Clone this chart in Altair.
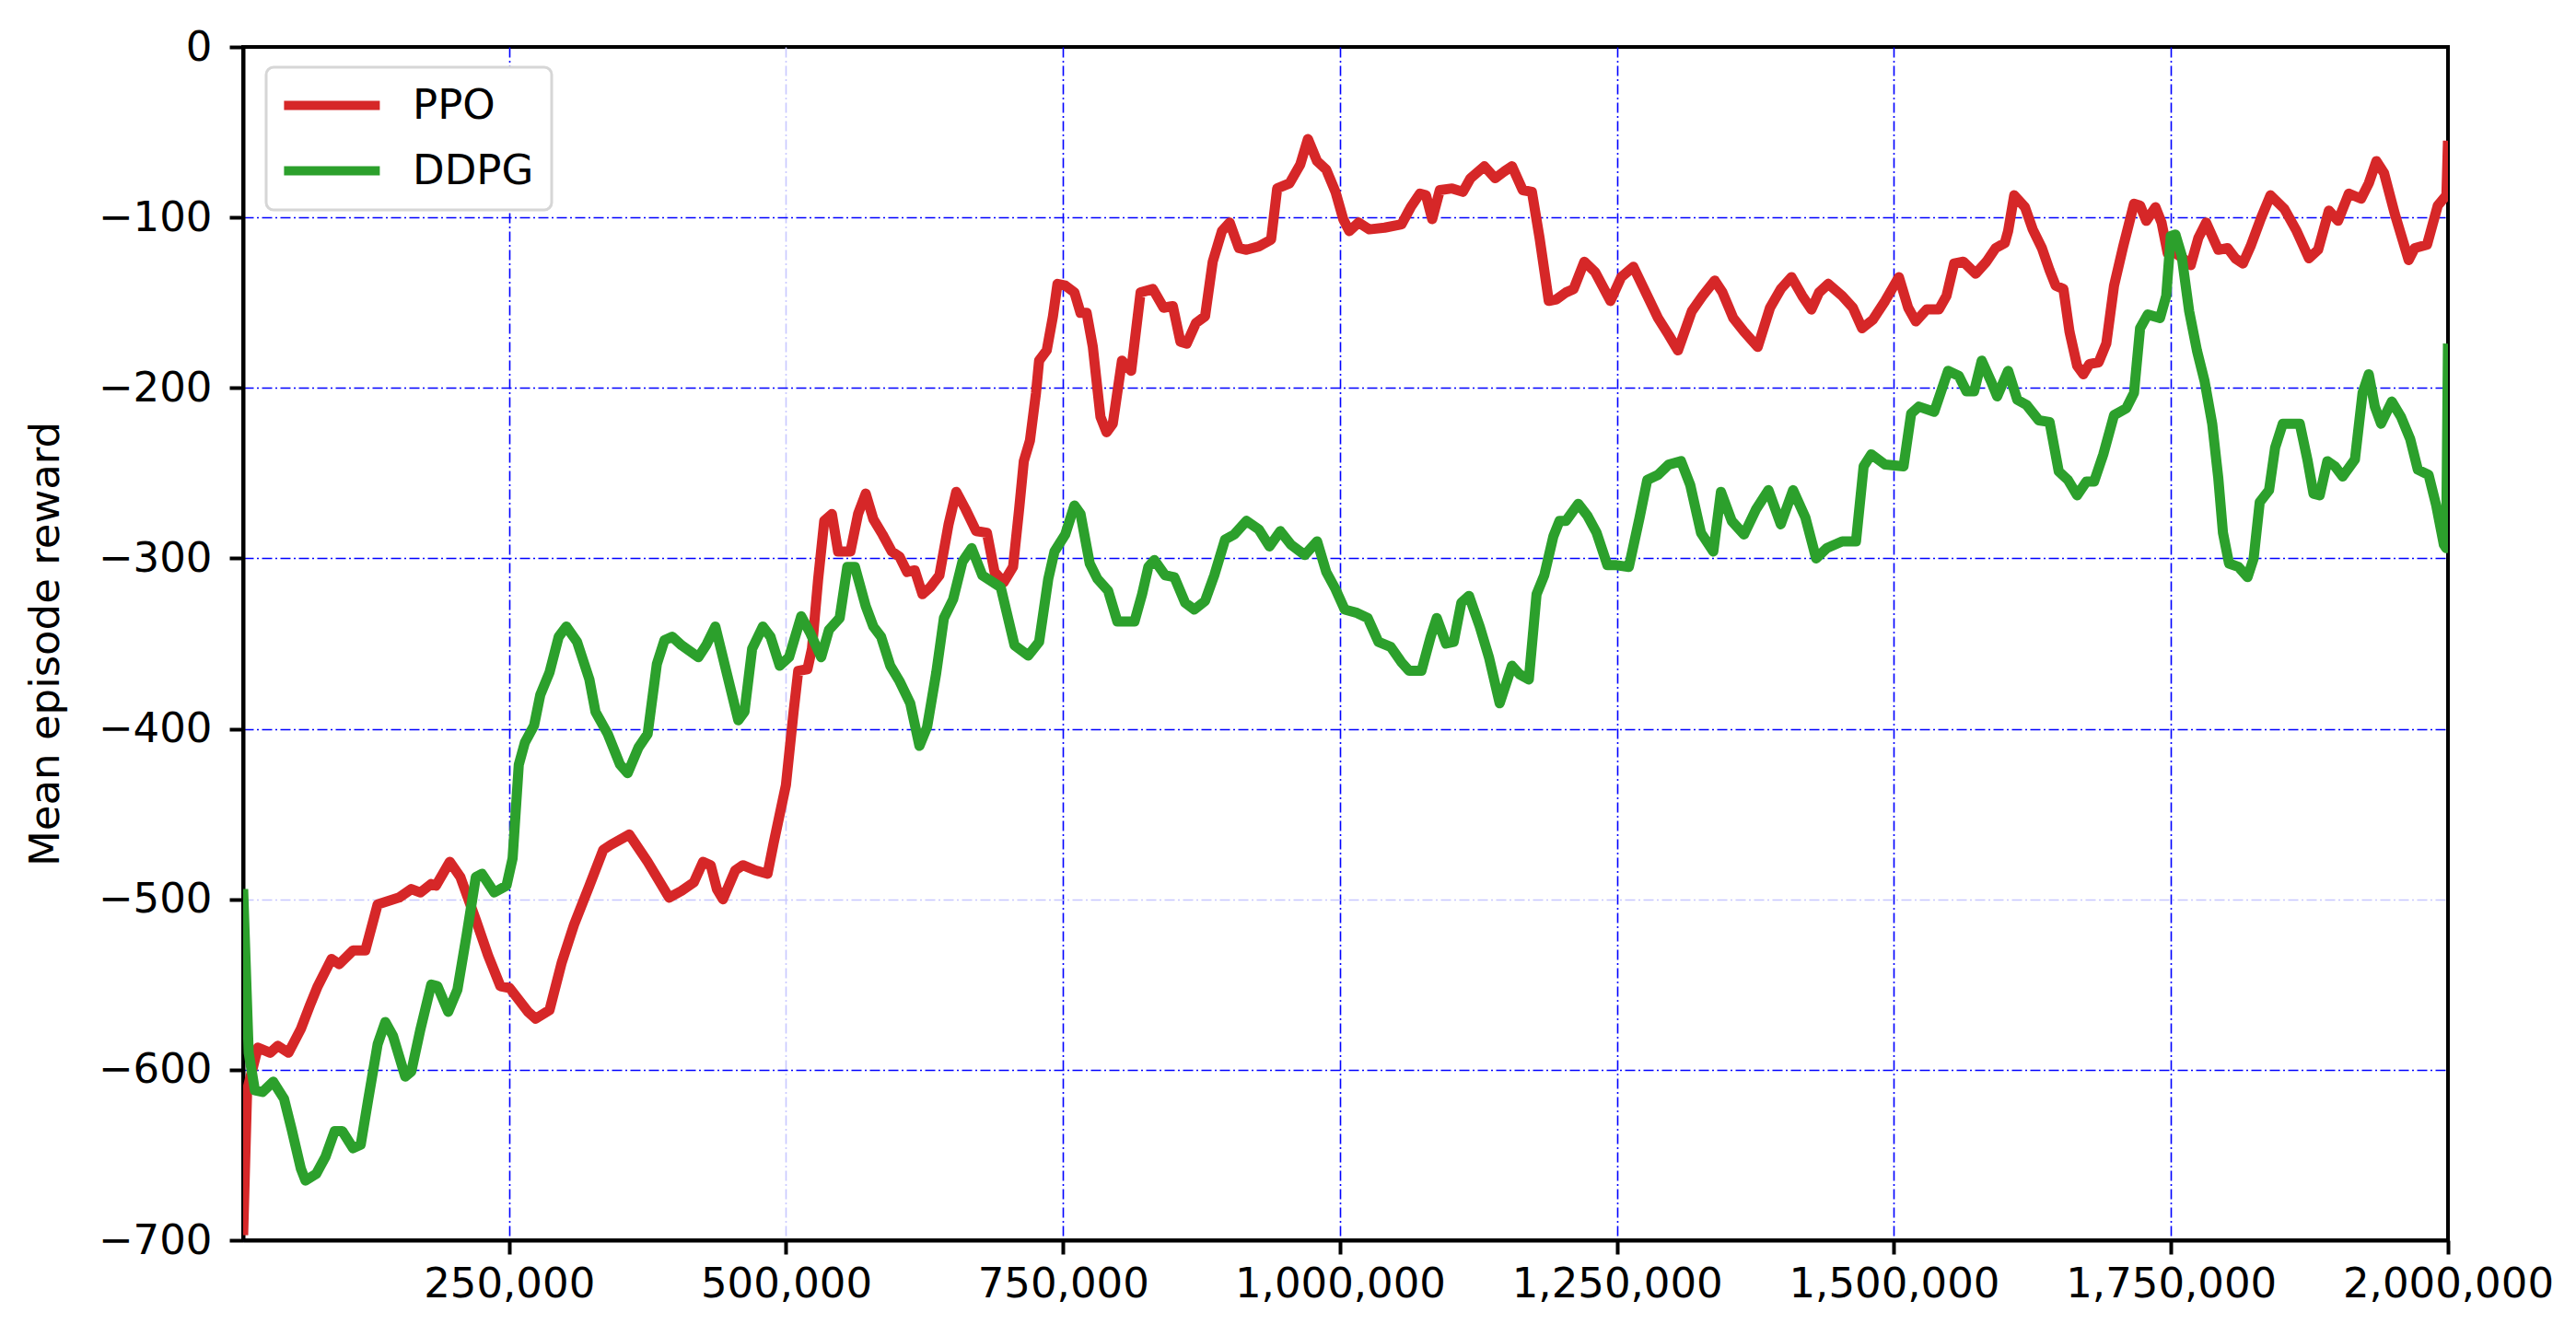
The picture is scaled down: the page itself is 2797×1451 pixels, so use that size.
import altair as alt
import pandas as pd

# Environment steps (thousands) and mean episode reward
ppo_steps_k = [10, 13.6, 23.3, 34.4, 41.3, 51.0, 62.1, 70.4, 77.3, 89.8, 96.7, 109.2, 120.3, 131.4,
               150.7, 161.8, 170.1, 179.8, 184.0, 196.5, 206.1, 220.0, 231.1, 242.2, 250.5, 267.1,
               274.0, 286.5, 297.6, 308.6, 322.5, 335.0, 341.9, 358.5, 375.1, 394.5,
               405.7, 416.8, 425.1, 432.0, 437.6, 443.1, 454.2, 461.1, 472.2, 483.3, 488.8, 499.9,
               506.8, 511.0, 519.3, 523.4, 529.0, 534.5, 541.4, 547.0, 558.1, 565.0, 571.9, 578.8,
               587.1, 595.5, 602.4, 609.3, 616.2, 623.1, 630.1, 638.4, 646.7, 653.6, 661.9, 671.6,
               681.3, 688.2, 696.5, 704.9, 710.4, 714.6, 720.1, 725.6, 728.4, 735.3, 740.9, 745.0,
               752.0, 760.3, 765.8, 771.3, 776.9, 783.8, 789.3, 794.9, 803.2,
               811.5, 820.0, 831.1, 840.8, 849.1, 856.0, 861.6, 869.9, 878.2, 885.1, 893.4, 900.4,
               908.7, 915.6, 926.7, 937.8, 943.3, 954.4, 964.1, 971.0, 979.3, 987.6, 995.9, 1002.9,
               1008.4, 1016.7, 1026.4, 1040.3, 1055.5, 1063.8, 1072.1, 1077.6, 1083.2, 1090.1,
               1101.2, 1110.9, 1117.8, 1130.3, 1140.0, 1148.3, 1155.2, 1164.9, 1173.2, 1180.1,
               1188.4, 1195.4,
               1203.9, 1210.8, 1220.5, 1230.2, 1244.1, 1253.8, 1264.8, 1275.9, 1287.0, 1296.7,
               1305.0, 1317.5, 1327.2, 1338.2, 1345.2, 1354.9, 1364.6, 1377.0, 1388.1, 1397.8,
               1407.5, 1417.2, 1425.5, 1432.4, 1440.7, 1453.2, 1462.9, 1471.2, 1480.9, 1492.0,
               1504.4, 1512.8, 1519.7, 1529.4, 1540.5, 1547.4, 1554.3, 1562.6, 1573.7, 1583.4,
               1591.7, 1600.0,
               1603.0, 1608.5, 1618.2, 1625.2, 1633.5, 1640.4, 1645.9, 1652.9, 1658.4, 1665.3,
               1670.9, 1676.4, 1684.7, 1691.6, 1698.6, 1706.9, 1716.6, 1722.1, 1727.7, 1736.0,
               1741.5, 1747.0, 1754.0, 1760.9, 1767.8, 1774.7, 1781.7, 1792.7, 1801.1, 1808.0,
               1814.9, 1821.8, 1831.5, 1839.8, 1852.3, 1863.4, 1874.5, 1882.8, 1892.5, 1900.8,
               1910.5, 1921.6, 1928.5, 1935.4, 1942.3, 1952.0, 1964.5, 1970.0, 1981.1, 1990.8,
               1998.6, 2000.0]
ppo_reward = [-697, -612, -587, -590, -586, -590, -576, -562, -551, -535, -538, -530, -530, -503,
              -499, -494, -496, -491, -492, -478, -487, -512, -533, -551, -552, -566,
              -570, -565, -537, -515, -492, -471, -468, -462, -478, -499,
              -495, -490, -478, -480, -494, -500, -483, -480, -483, -485, -467, -433,
              -390, -366, -365, -353, -312, -278, -274, -296, -296, -274, -262, -277,
              -286, -296, -299, -308, -307, -321, -317, -310, -280, -261, -271, -284,
              -285, -308, -314, -305, -271, -243, -231, -203, -184, -178, -158, -139,
              -140, -144, -156, -156, -176, -217, -226, -221, -184,
              -190, -144, -142, -153, -152, -173, -174, -162, -158, -126, -108, -103,
              -118, -119, -117, -113, -83, -80, -69, -54, -67, -72, -85, -101,
              -108, -103, -107, -106, -104, -94, -86, -87, -101, -84,
              -83, -85, -77, -70, -77, -73, -70, -84, -85, -112,
              -149, -148,
              -144, -142, -126, -132, -149, -135, -129, -144, -159, -169,
              -178, -155, -146, -137, -144, -159, -167, -176, -153, -142,
              -135, -146, -154, -144, -139, -146, -153, -165, -160, -149,
              -135, -153, -161, -154, -154, -146, -127, -126, -133, -126,
              -118, -115,
              -108, -87, -94, -107, -118, -131, -140, -142, -167, -187,
              -192, -186, -185, -174, -140, -117, -92, -93, -102, -94,
              -103, -121, -121, -124, -128, -112, -103, -119, -118, -124,
              -127, -117, -100, -87, -95, -108, -124, -119, -96, -102,
              -86, -89, -80, -67, -74, -98, -125, -118, -116, -93,
              -87, -55]

ddpg_steps_k = [10, 15.0, 20.6, 27.5, 37.2, 46.9, 53.8, 62.1, 66.3, 76.0, 84.3, 92.6, 99.5, 109.2,
                116.1, 123.0, 131.4, 138.3, 145.2, 156.3, 161.8, 170.1, 179.8, 185.4, 195.1, 203.4,
                211.7, 220.0, 225.5, 236.6, 247.7, 253.2, 258.8, 264.3, 272.6, 278.2, 286.5, 294.8,
                301.7, 311.4, 322.5, 328.0, 339.1, 350.2, 357.1, 366.8, 375.1, 383.4, 390.3, 397.3,
                405.7, 420.9, 427.9, 436.2, 444.5, 456.9, 462.5, 469.4, 479.1, 486.0, 494.3, 502.7,
                513.7, 522.0, 531.7, 538.7, 548.4, 555.3, 562.2, 571.9, 578.8, 585.8, 594.1, 602.4,
                612.1, 620.4, 627.3, 635.6, 642.5, 650.8, 659.2, 667.5, 677.2, 693.8, 706.2, 718.7,
                728.4, 736.7, 742.3, 752.0, 760.3, 765.8, 774.1, 781.0, 790.7, 799.0,
                804.8, 814.5, 821.4, 827.0, 832.5, 842.2, 850.5, 860.2, 868.5, 878.2, 886.5, 896.2,
                904.5, 915.6, 926.7, 936.4, 946.1, 955.8, 968.2, 979.3, 987.6, 995.9, 1004.2,
                1015.3, 1025.0, 1034.7, 1045.8, 1055.5, 1062.4, 1073.5, 1081.8, 1087.3, 1095.7,
                1102.6, 1109.5, 1116.4, 1126.1, 1134.4, 1144.1, 1155.2, 1162.1, 1170.4, 1177.4,
                1184.3, 1192.6, 1198.1,
                1203.9, 1215.0, 1223.3, 1231.6, 1241.3, 1249.6, 1260.7, 1270.4, 1277.3, 1287.0,
                1296.7, 1307.8, 1316.1, 1325.8, 1336.9, 1343.8, 1353.5, 1364.6, 1375.7, 1386.7,
                1397.8, 1408.9, 1420.0, 1429.7, 1439.4, 1453.2, 1465.7, 1472.6, 1479.5, 1492.0,
                1508.6, 1515.5, 1522.5, 1536.3, 1548.8, 1558.5, 1565.4, 1572.3, 1579.2, 1587.5,
                1593.1,
                1603.0, 1611.3, 1619.6, 1630.7, 1640.4, 1648.7, 1657.0, 1665.3, 1673.6, 1680.6,
                1688.9, 1698.6, 1709.6, 1716.6, 1722.1, 1729.0, 1740.1, 1745.7, 1749.8, 1754.0,
                1759.5, 1766.4, 1773.4, 1780.3, 1787.2, 1792.7, 1796.9, 1802.4, 1810.8, 1819.1,
                1824.6, 1830.1, 1838.5, 1844.0, 1850.9, 1866.2, 1873.1, 1878.6, 1884.2, 1891.1,
                1898.0, 1904.9, 1916.0, 1922.9, 1928.5, 1934.0, 1939.6, 1949.3, 1957.6, 1965.9,
                1972.8, 1982.5, 1989.4, 1996.3, 1998.3, 2000.0]
ddpg_reward = [-494, -590, -612, -613, -607, -617, -635, -658, -665, -661, -651, -636, -636, -646,
               -644, -617, -585, -572, -580, -604, -601, -576, -550, -551, -566, -553,
               -521, -487, -485, -496, -492, -476, -421, -408, -398, -380, -367, -346,
               -340, -349, -371, -390, -403, -421, -426, -411, -403, -362, -348, -346,
               -351, -358, -351, -340, -362, -395, -390, -353, -340, -346, -363, -358,
               -334, -344, -358, -342, -335, -305, -305, -328, -340, -346, -363, -372,
               -385, -410, -399, -367, -335, -324, -302, -294, -310, -317, -351, -357,
               -349, -312, -296, -286, -269, -274, -303, -312, -319, -337,
               -337, -337, -321, -305, -301, -310, -311, -326, -330, -325, -310, -289,
               -286, -278, -283, -293, -284, -292, -298, -290, -308, -318, -330,
               -332, -335, -349, -352, -361, -366, -366, -346, -335, -350,
               -349, -326, -322, -340, -358, -385, -363, -368, -371, -321,
               -310, -287, -278,
               -278, -268, -275, -285, -304, -304, -305, -276, -254, -251,
               -245, -243, -257, -285, -296, -261, -278, -286, -271, -260,
               -280, -260, -276, -300, -294, -290, -290, -246, -239, -245,
               -246, -215, -211, -214, -190, -193, -202, -202, -184, -196,
               -205,
               -190, -207, -210, -219, -220, -249, -254, -263, -255, -255,
               -239, -216, -212, -203, -165, -157, -159, -146, -111, -110,
               -122, -155, -178, -196, -221, -253, -285, -303, -305, -311,
               -300, -267, -260, -235, -221, -221, -242, -262, -263, -243,
               -246, -252, -242, -203, -192, -211, -221, -208, -217, -230,
               -248, -251, -269, -292, -294, -174]

x_ticks = [250000, 500000, 750000, 1000000, 1250000, 1500000, 1750000, 2000000]
y_ticks = [0, -100, -200, -300, -400, -500, -600, -700]
series = ["PPO", "DDPG"]
colors = ["#d62728", "#2ca02c"]

ppo_df = pd.DataFrame({"step": [s * 1000 for s in ppo_steps_k], "reward": ppo_reward, "algo": "PPO"})
ddpg_df = pd.DataFrame({"step": [s * 1000 for s in ddpg_steps_k], "reward": ddpg_reward, "algo": "DDPG"})

FONT = "DejaVu Sans"
grid_dash = [11, 3.5, 2, 3.5]

x_enc = alt.X("step:Q",
              scale=alt.Scale(domain=[10000, 2000000], nice=False, zero=False),
              axis=alt.Axis(values=x_ticks, format=",d", title=None,
                            grid=True,
                            gridColor={"condition": {"test": "datum.value === 500000", "value": "#c8c8ff"},
                                       "value": "#0000ff"},
                            gridOpacity={"condition": {"test": "datum.value === 2000000", "value": 0},
                                         "value": 1},
                            gridDash=grid_dash, gridWidth=1.6,
                            labelPadding=10, labelLimit=0, labelOverlap=False, labelFlush=False))
y_enc = alt.Y("reward:Q",
              scale=alt.Scale(domain=[-700, 0], nice=False),
              axis=alt.Axis(values=y_ticks, format="d", title="Mean episode reward",
                            grid=True,
                            gridColor={"condition": {"test": "datum.value === -500", "value": "#c8c8ff"},
                                       "value": "#0000ff"},
                            gridOpacity={"condition": {"test": "datum.value === 0", "value": 0},
                                         "value": 1},
                            gridDash=grid_dash, gridWidth=1.6,
                            labelPadding=19, titlePadding=34, labelLimit=0, labelOverlap=False,
                            labelFlush=False))
color_enc = alt.Color("algo:N",
                      scale=alt.Scale(domain=series, range=colors),
                      legend=alt.Legend(title=None, orient="none", legendX=25, legendY=22,
                                        symbolType="M-1.7,0L6.3,0", symbolSize=676, symbolStrokeWidth=10,
                                        labelFontSize=45, labelFont=FONT, labelOffset=95,
                                        rowPadding=25, padding=19,
                                        fillColor="white", strokeColor="#d6d6d6",
                                        cornerRadius=8))

ppo_line = alt.Chart(ppo_df).mark_line(strokeWidth=11, strokeJoin="round", clip=True).encode(
    x=x_enc, y=y_enc, color=color_enc)
ddpg_line = alt.Chart(ddpg_df).mark_line(strokeWidth=11, strokeJoin="round", clip=True).encode(
    x=x_enc, y=y_enc, color=color_enc)

chart = alt.layer(ppo_line, ddpg_line).properties(
    width=2394, height=1296,
    autosize=alt.AutoSizeParams(type="none"),
    padding={"left": 256, "top": 43, "right": 120, "bottom": 96},
).configure_view(
    stroke="black", strokeWidth=4
).configure_axis(
    labelFont=FONT, titleFont=FONT, labelFontSize=45, titleFontSize=45,
    labelColor="black", titleColor="black", titleFontWeight="normal",
    domainColor="black", domainWidth=4, tickColor="black", tickWidth=4, tickSize=15,
).configure_legend(
    strokeWidth=3
)

chart.save("out.html", embed_options={"renderer": "svg", "actions": False})
